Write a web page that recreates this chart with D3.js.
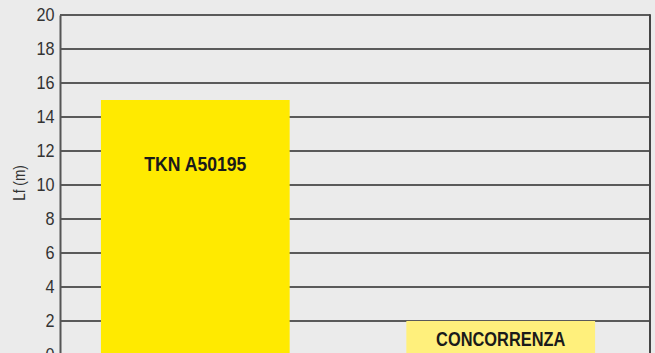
<!DOCTYPE html>
<html>
  <head>
    <script src="https://d3js.org/d3.v7.min.js"></script>
    <style>
      body { margin: 0; background: #ebebeb; }
      svg { display: block; }
    </style>
  </head>
  <body>
    <svg id="plot" width="655" height="353"></svg>
    <script>
      const categories = ["TKN A50195", "CONCORRENZA"];
      const values = [15, 2];
      const barColors = ["#ffea00", "#fff07c"];
      const yTicks = [0, 2, 4, 6, 8, 10, 12, 14, 16, 18, 20];

      const svg = d3.select("#plot");
      const plotLeft = 60, plotRight = 650, plotTop = 15, plotBottom = 355;
      const font = "'Liberation Sans', Arial, sans-serif";

      const y = d3.scaleLinear().domain([0, 20]).range([plotBottom, plotTop]);
      const x = d3.scaleBand().domain(categories)
        .range([60, 636]).paddingInner(0.382).paddingOuter(0.134);

      // gridlines
      svg.append("g").selectAll("line")
        .data(yTicks)
        .enter().append("line")
        .attr("x1", plotLeft).attr("x2", plotRight)
        .attr("y1", d => y(d)).attr("y2", d => y(d))
        .attr("stroke", "#2a2a2a").attr("stroke-width", 1.6);

      // right border
      svg.append("line")
        .attr("x1", plotRight).attr("x2", plotRight).attr("y1", plotTop - 0.8).attr("y2", plotBottom)
        .attr("stroke", "#444").attr("stroke-width", 2);

      // bars
      svg.selectAll("rect.bar")
        .data(categories)
        .enter().append("rect")
        .attr("class", "bar")
        .attr("x", d => x(d))
        .attr("width", x.bandwidth())
        .attr("y", (d, i) => y(values[i]))
        .attr("height", (d, i) => y(0) - y(values[i]))
        .attr("fill", (d, i) => barColors[i]);

      // bar labels (squeezed to look condensed)
      svg.selectAll("text.lbl")
        .data(categories)
        .enter().append("text")
        .attr("class", "lbl")
        .attr("transform", (d, i) => "translate(" + (x(d) + x.bandwidth() / 2) + "," + (i === 0 ? 171 : 346) + ") scale(" + (i === 0 ? 0.84 : 0.78) + ",1)")
        .attr("text-anchor", "middle")
        .style("font-family", font)
        .style("font-weight", "bold")
        .style("font-size", "21px")
        .attr("fill", "#1a1a1a")
        .text(d => d);

      // y axis
      const yAxis = svg.append("g")
        .attr("transform", "translate(" + plotLeft + ",0)")
        .call(d3.axisLeft(y).tickValues(yTicks).tickSize(0).tickPadding(6));
      yAxis.select(".domain").attr("stroke", "#555").attr("stroke-width", 2);
      yAxis.selectAll("text")
        .attr("transform", "scale(0.9,1)")
        .style("font-family", font)
        .style("font-size", "18px")
        .attr("fill", "#333");

      svg.append("text")
        .attr("transform", "translate(25,183) rotate(-90) scale(0.85,1)")
        .attr("text-anchor", "middle")
        .style("font-family", font)
        .style("font-size", "16px")
        .attr("fill", "#333")
        .text("Lf (m)");
    </script>
  </body>
</html>
